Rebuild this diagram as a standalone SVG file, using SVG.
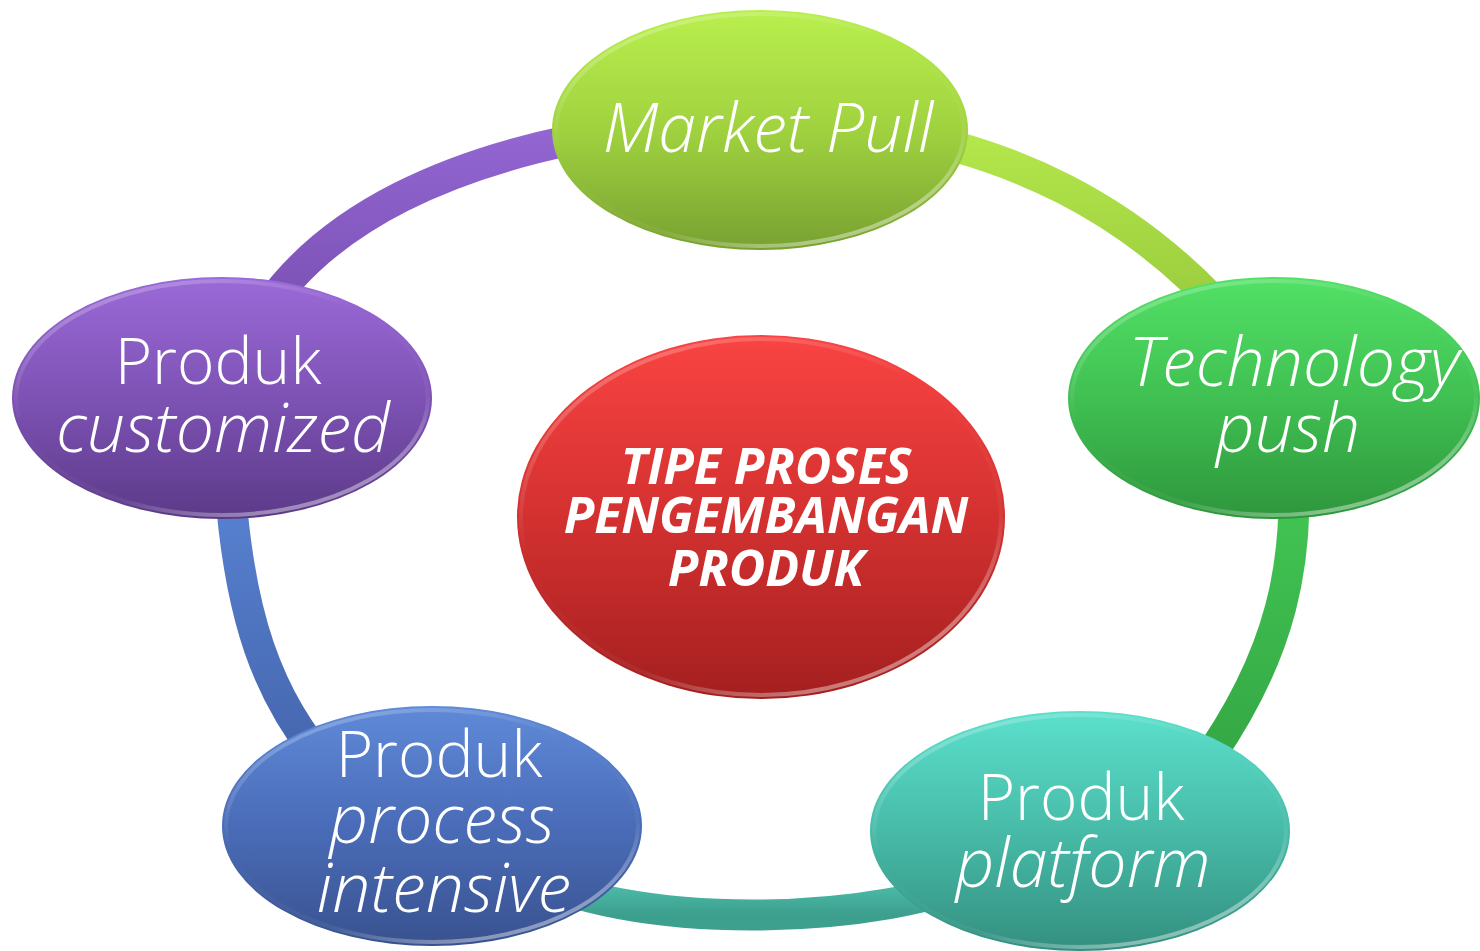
<svg xmlns="http://www.w3.org/2000/svg" width="1480" height="951" viewBox="0 0 1480 951">
<style>
.lbl{font-family:"Open Sans","Noto Sans","Liberation Sans",sans-serif;font-weight:300;fill:#ffffff;text-anchor:middle;font-size:64px}
.it{font-style:italic;font-size:68px}
.ctr{font-family:"Open Sans","Noto Sans","Liberation Sans",sans-serif;font-weight:700;font-style:italic;fill:#ffffff;text-anchor:middle;font-size:50px}
.ring{fill:none;stroke-width:31;stroke-linecap:butt}
.rim{fill:none;stroke:url(#rim);stroke-width:4}
</style>
<defs>
<linearGradient id="gLime" x1="0" y1="0" x2="0" y2="1"><stop offset="0" stop-color="#b9ef4d"/><stop offset="0.5" stop-color="#a0d23f"/><stop offset="1" stop-color="#78a131"/></linearGradient>
<linearGradient id="gGreen" x1="0" y1="0" x2="0" y2="1"><stop offset="0" stop-color="#52e166"/><stop offset="0.5" stop-color="#40c052"/><stop offset="1" stop-color="#2e963c"/></linearGradient>
<linearGradient id="gPurple" x1="0" y1="0" x2="0" y2="1"><stop offset="0" stop-color="#9b6ad8"/><stop offset="0.5" stop-color="#7d52b4"/><stop offset="1" stop-color="#5c3a88"/></linearGradient>
<linearGradient id="gBlue" x1="0" y1="0" x2="0" y2="1"><stop offset="0" stop-color="#5f8ad8"/><stop offset="0.5" stop-color="#4a6cb8"/><stop offset="1" stop-color="#39528f"/></linearGradient>
<linearGradient id="gTeal" x1="0" y1="0" x2="0" y2="1"><stop offset="0" stop-color="#5be0cc"/><stop offset="0.5" stop-color="#47bba8"/><stop offset="1" stop-color="#348f80"/></linearGradient>
<linearGradient id="gRed" x1="0" y1="0" x2="0" y2="1"><stop offset="0" stop-color="#f94442"/><stop offset="0.5" stop-color="#d33130"/><stop offset="1" stop-color="#a41f1f"/></linearGradient>
<linearGradient id="rim" x1="0" y1="0" x2="0.6" y2="1"><stop offset="0" stop-color="#ffffff" stop-opacity="0.35"/><stop offset="0.45" stop-color="#ffffff" stop-opacity="0"/><stop offset="0.8" stop-color="#ffffff" stop-opacity="0.05"/><stop offset="1" stop-color="#ffffff" stop-opacity="0.4"/></linearGradient>
<linearGradient id="rPurple" x1="0" y1="0" x2="0" y2="1"><stop offset="0" stop-color="#9366d2"/><stop offset="1" stop-color="#7a50b3"/></linearGradient>
<linearGradient id="rLime" x1="0" y1="0" x2="0" y2="1"><stop offset="0" stop-color="#b4e84b"/><stop offset="1" stop-color="#98c83c"/></linearGradient>
<linearGradient id="rGreen" x1="0" y1="0" x2="0" y2="1"><stop offset="0" stop-color="#45cd57"/><stop offset="1" stop-color="#34a644"/></linearGradient>
<linearGradient id="rTeal" x1="0" y1="0" x2="0" y2="1"><stop offset="0" stop-color="#53c9b5"/><stop offset="1" stop-color="#3d9f8e"/></linearGradient>
<linearGradient id="rBlue" x1="0" y1="0" x2="0" y2="1"><stop offset="0" stop-color="#5a86d6"/><stop offset="1" stop-color="#4565ad"/></linearGradient>
</defs>
<rect width="1480" height="951" fill="#ffffff"/>
<g id="connectors">
<path class="ring" stroke="url(#rPurple)" d="M 258,322 C 320,220 450,155 640,128"/>
<path class="ring" stroke="url(#rLime)" d="M 880,130 C 1000,150 1130,200 1240,330"/>
<path class="ring" stroke="url(#rGreen)" d="M 1290,430 C 1305,560 1280,660 1200,770"/>
<path class="ring" stroke="url(#rTeal)" d="M 1000,870 C 880,930 620,930 520,870"/>
<path class="ring" stroke="url(#rBlue)" d="M 330,770 C 270,700 235,620 228,450"/>
</g>
<g id="center">
<ellipse cx="761" cy="517" rx="244" ry="182" fill="url(#gRed)"/>
<ellipse class="rim" cx="761" cy="517" rx="240" ry="178"/>
<text class="ctr" x="766" y="484">TIPE PROSES</text>
<text class="ctr" x="766" y="533">PENGEMBANGAN</text>
<text class="ctr" x="766" y="586">PRODUK</text>
</g>
<g id="market-pull">
<ellipse cx="760" cy="130" rx="208" ry="120" fill="url(#gLime)"/>
<ellipse class="rim" cx="760" cy="130" rx="204" ry="116"/>
<text class="lbl it" x="768" y="152">Market Pull</text>
</g>
<g id="technology-push">
<ellipse cx="1274" cy="398" rx="206" ry="121" fill="url(#gGreen)"/>
<ellipse class="rim" cx="1274" cy="398" rx="202" ry="117"/>
<text class="lbl it" x="1294" y="386">Technology</text>
<text class="lbl it" x="1288" y="452">push</text>
</g>
<g id="produk-platform">
<ellipse cx="1080" cy="831" rx="210" ry="120" fill="url(#gTeal)"/>
<ellipse class="rim" cx="1080" cy="831" rx="206" ry="116"/>
<text class="lbl" x="1081" y="820">Produk</text>
<text class="lbl it" x="1083" y="887">platform</text>
</g>
<g id="produk-process-intensive">
<ellipse cx="432" cy="826" rx="210" ry="120" fill="url(#gBlue)"/>
<ellipse class="rim" cx="432" cy="826" rx="206" ry="116"/>
<text class="lbl" x="439" y="777">Produk</text>
<text class="lbl it" x="442" y="843">process</text>
<text class="lbl it" x="444" y="912">intensive</text>
</g>
<g id="produk-customized">
<ellipse cx="222" cy="398" rx="210" ry="121" fill="url(#gPurple)"/>
<ellipse class="rim" cx="222" cy="398" rx="206" ry="117"/>
<text class="lbl" x="218" y="384">Produk</text>
<text class="lbl it" x="223" y="452">customized</text>
</g>
</svg>
